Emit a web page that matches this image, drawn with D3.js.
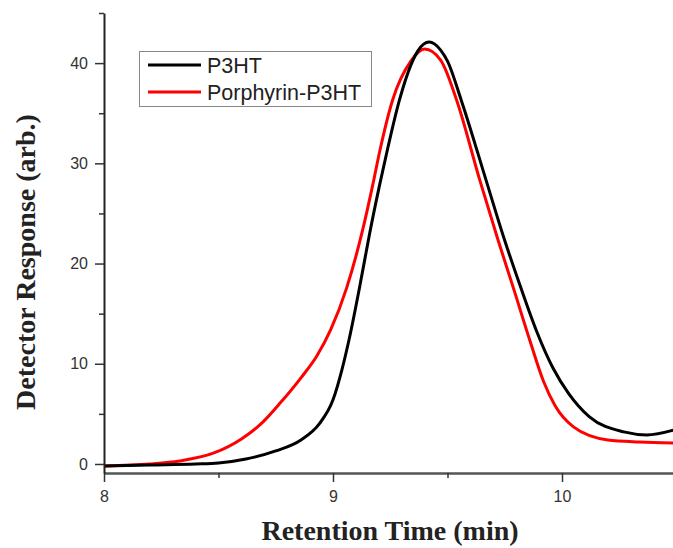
<!DOCTYPE html>
<html>
<head>
<meta charset="utf-8">
<script src="https://cdn.jsdelivr.net/npm/d3@7"></script>
<style>
  body { margin: 0; background: #fff; }
  svg { display: block; }
</style>
</head>
<body>
<svg id="chart" width="673" height="548"></svg>
<script>
// retention time (min) / detector response (arb.)
let p3ht_time = [8.00, 8.20, 8.40, 8.50, 8.62, 8.75, 8.86, 8.94, 9.00, 9.04, 9.07, 9.12, 9.16, 9.205, 9.24, 9.29, 9.34, 9.37, 9.42, 9.47, 9.50, 9.56, 9.67, 9.74, 9.82, 9.89, 9.96, 10.03, 10.12, 10.27, 10.37, 10.49];
let p3ht_resp = [-0.2, -0.1, 0.0, 0.1, 0.5, 1.3, 2.4, 4.0, 6.4, 9.5, 12.4, 18.1, 23.0, 28.0, 31.6, 36.3, 39.8, 41.2, 42.1, 41.3, 40.2, 36.3, 28.2, 23.0, 17.6, 13.2, 9.6, 7.0, 4.7, 3.2, 2.9, 3.4];

let porph_time = [8.00, 8.20, 8.33, 8.48, 8.60, 8.69, 8.77, 8.86, 8.93, 8.99, 9.06, 9.13, 9.175, 9.205, 9.26, 9.34, 9.40, 9.47, 9.54, 9.64, 9.72, 9.79, 9.86, 9.92, 9.97, 10.05, 10.20, 10.34, 10.49];
let porph_resp = [-0.2, 0.0, 0.3, 1.1, 2.5, 4.1, 6.1, 8.6, 10.8, 13.4, 17.6, 23.4, 28.0, 31.3, 36.3, 40.2, 41.4, 40.3, 36.3, 28.4, 22.4, 17.4, 12.3, 8.2, 5.8, 3.7, 2.4, 2.2, 2.1];

let series_names = ['P3HT', 'Porphyrin-P3HT'];
let series_colors = ['#000000', '#ff0000'];

let x_major = [8, 9, 10];
let x_minor = [8.5, 9.5, 10.5];
let y_major = [0, 10, 20, 30, 40];
let y_minor = [5, 15, 25, 35, 45];

let svg = d3.select('#chart');

let plot_left = 104, plot_bottom = 473, plot_top = 13;

let x = d3.scaleLinear().domain([8, 10.5]).range([plot_left, plot_left + 229 * 2.5]);
let y = d3.scaleLinear().domain([-0.9, 45]).range([plot_bottom, plot_top]);

let series = [
  {name: series_names[0], color: series_colors[0], pts: p3ht_time.map((t, i) => [t, p3ht_resp[i]])},
  {name: series_names[1], color: series_colors[1], pts: porph_time.map((t, i) => [t, porph_resp[i]])}
];

let line = d3.line()
  .curve(d3.curveMonotoneX)
  .x(d => x(d[0]))
  .y(d => y(d[1]));

// curves (red drawn first, black on top)
svg.append('g').attr('class', 'curves')
  .selectAll('path').data(series.slice().reverse()).enter().append('path')
  .attr('d', d => line(d.pts))
  .attr('fill', 'none')
  .attr('stroke', d => d.color)
  .attr('stroke-width', 3)
  .attr('stroke-linejoin', 'round');

// x axis
let xAxisG = svg.append('g').attr('transform', 'translate(0,' + plot_bottom + ')');
xAxisG.call(d3.axisBottom(x).tickValues(x_major).tickSize(9).tickSizeOuter(0).tickPadding(9).tickFormat(d3.format('d')));
xAxisG.append('g').call(d3.axisBottom(x).tickValues(x_minor).tickSize(5).tickSizeOuter(0).tickFormat(''))
  .select('.domain').remove();
xAxisG.select('.domain').attr('stroke', '#555').attr('stroke-width', 2.5);

// y axis
let yAxisG = svg.append('g').attr('transform', 'translate(' + plot_left + ',0)');
yAxisG.call(d3.axisLeft(y).tickValues(y_major).tickSize(9).tickSizeOuter(0).tickPadding(7));
yAxisG.append('g').call(d3.axisLeft(y).tickValues(y_minor).tickSize(5).tickSizeOuter(0).tickFormat(''))
  .select('.domain').remove();
yAxisG.select('.domain').attr('stroke', '#222').attr('stroke-width', 2);

svg.selectAll('.tick line').attr('stroke', '#333').attr('stroke-width', 1.5);
svg.selectAll('.tick text')
  .attr('fill', '#333')
  .style('font-family', '"Liberation Sans", Arial, sans-serif')
  .style('font-size', '16px');

// axis titles
svg.append('text')
  .attr('x', 390).attr('y', 540)
  .attr('text-anchor', 'middle')
  .style('font-family', '"Liberation Serif", "Times New Roman", serif')
  .style('font-weight', 'bold')
  .style('font-size', '28px')
  .attr('fill', '#222')
  .text('Retention Time (min)');

svg.append('text')
  .attr('transform', 'translate(35,262) rotate(-90)')
  .attr('text-anchor', 'middle')
  .style('font-family', '"Liberation Serif", "Times New Roman", serif')
  .style('font-weight', 'bold')
  .style('font-size', '28px')
  .attr('fill', '#222')
  .text('Detector Response (arb.)');

// legend
let legend = svg.append('g').attr('class', 'legend');
legend.append('rect')
  .attr('x', 139.5).attr('y', 51.5).attr('width', 232).attr('height', 55)
  .attr('fill', '#fff').attr('stroke', '#888').attr('stroke-width', 1);

let items = legend.selectAll('.item').data(series).enter().append('g')
  .attr('class', 'item')
  .attr('transform', (d, i) => 'translate(0,' + (65 + i * 27) + ')');
items.append('line')
  .attr('x1', 148).attr('x2', 201).attr('y1', 0).attr('y2', 0)
  .attr('stroke', d => d.color).attr('stroke-width', 3);
items.append('text')
  .attr('x', 207).attr('y', 8)
  .style('font-family', '"Liberation Sans", Arial, sans-serif')
  .style('font-size', '21.5px')
  .attr('fill', '#222')
  .text(d => d.name);
</script>
</body>
</html>
